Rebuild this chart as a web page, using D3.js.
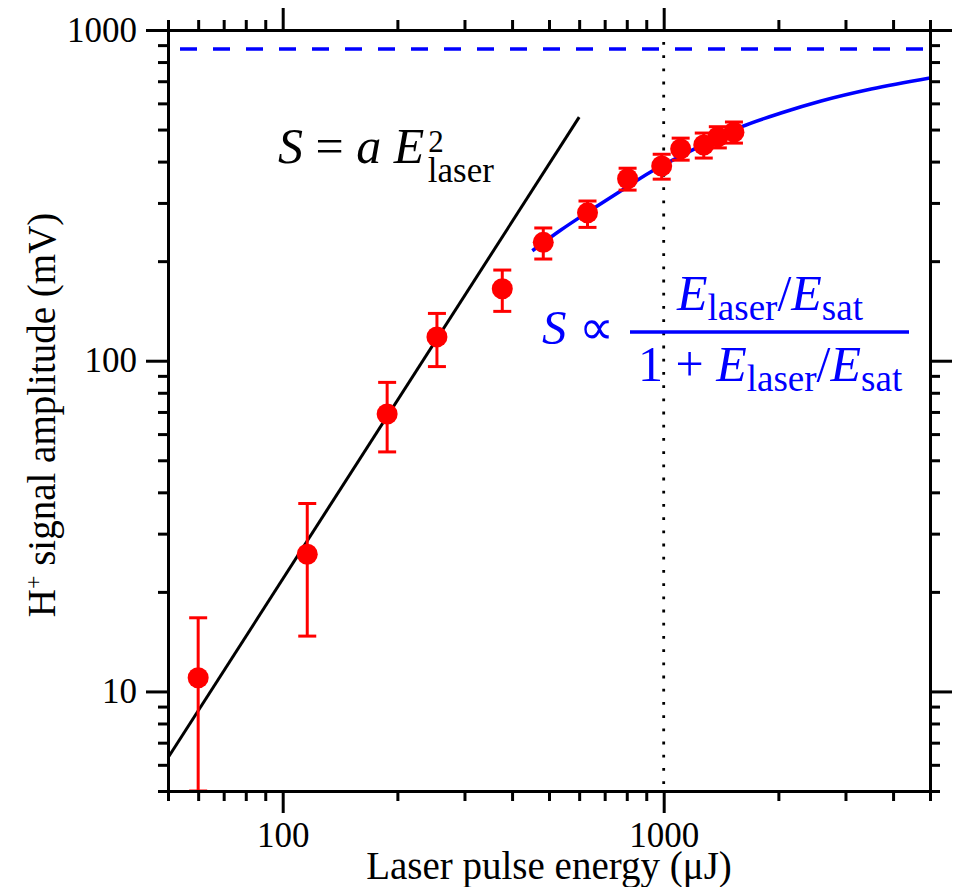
<!DOCTYPE html>
<html>
<head>
<meta charset="utf-8">
<script src="https://cdn.jsdelivr.net/npm/d3@7"></script>
<style>
  body { margin: 0; background: #fff; }
  svg { font-family: "Liberation Serif", "Times New Roman", serif; }
  .axis path, .axis line { stroke: #000; stroke-width: 3; }
  .axis text { font-size: 35px; fill: #000; font-family: "Liberation Serif", serif; }
</style>
</head>
<body>
<div id="chart"></div>
<script>
// measured points (energy in uJ, signal in mV)
const energy = [60, 116, 188, 254, 377, 483, 631, 804, 988, 1108, 1274, 1387, 1529];
const signal = [11, 26, 69, 118, 165, 228, 280, 355, 388, 437, 449, 475, 491];
const errLow = [5, 14.7, 53, 96, 141, 203, 253, 328, 354, 404, 410, 440, 455];
const errHigh = [16.7, 37, 86, 139, 188, 252, 304, 382, 421, 471, 488, 510, 527];

// quadratic guide line (end points)
const quadE = [50, 600];
const quadS = [6.3, 545];

// saturation fit curve
const fitE = [452, 536, 643, 771, 924, 1109, 1330, 1595, 2032, 2590, 3505, 5000];
const fitS = [215, 248, 285, 326, 372, 416, 462, 509, 561, 610, 663, 716];

const saturationLevel = 876;
const eSatMark = 1000;

const xMajor = [100, 1000];
const xMinor = [50, 60, 70, 80, 90, 200, 300, 400, 500, 600, 700, 800, 900, 2000, 3000, 4000, 5000];
const yMajor = [10, 100, 1000];
const yMinor = [5, 6, 7, 8, 9, 20, 30, 40, 50, 60, 70, 80, 90, 200, 300, 400, 500, 600, 700, 800, 900];

const width = 963;
const height = 887;
const area = { left: 168, right: 930, top: 30, bottom: 791 };

const svg = d3.select("#chart").append("svg")
  .attr("width", width)
  .attr("height", height);

const x = d3.scaleLog().domain([50, 5000]).range([area.left, area.right]);
const y = d3.scaleLog().domain([5, 1000]).range([area.bottom, area.top]);

svg.append("clipPath").attr("id", "plot-clip")
  .append("rect")
  .attr("x", area.left).attr("y", area.top)
  .attr("width", area.right - area.left)
  .attr("height", area.bottom - area.top);

const plot = svg.append("g").attr("clip-path", "url(#plot-clip)");

// saturation level (dashed)
plot.append("line")
  .attr("x1", x(50)).attr("x2", x(5000))
  .attr("y1", y(saturationLevel)).attr("y2", y(saturationLevel))
  .style("stroke", "#0000ff")
  .style("stroke-width", 3.3)
  .style("stroke-dasharray", "17,16")
  .style("stroke-dashoffset", 21);

// E_sat marker (dotted)
plot.append("line")
  .attr("x1", x(eSatMark)).attr("x2", x(eSatMark))
  .attr("y1", y(1000)).attr("y2", y(5))
  .style("stroke", "#000")
  .style("stroke-width", 2.8)
  .style("stroke-dasharray", "2.8,10.4")
  .style("stroke-dashoffset", -12);

// quadratic line
plot.append("path")
  .datum(quadE.map((e, i) => [e, quadS[i]]))
  .attr("d", d3.line().x((d) => x(d[0])).y((d) => y(d[1])))
  .style("fill", "none")
  .style("stroke", "#000")
  .style("stroke-width", 3);

// saturation fit
plot.append("path")
  .datum(fitE.map((e, i) => [e, fitS[i]]))
  .attr("d", d3.line().x((d) => x(d[0])).y((d) => y(d[1])).curve(d3.curveMonotoneX))
  .style("fill", "none")
  .style("stroke", "#0000ff")
  .style("stroke-width", 3.5);

// error bars + points
const pts = energy.map((e, i) => ({ e, s: signal[i], lo: errLow[i], hi: errHigh[i] }));
const capW = 9;

const bars = plot.append("g")
  .style("stroke", "#ff0000")
  .style("stroke-width", 3);

bars.selectAll("line.v").data(pts).join("line")
  .attr("class", "v")
  .attr("x1", (d) => x(d.e)).attr("x2", (d) => x(d.e))
  .attr("y1", (d) => y(d.lo)).attr("y2", (d) => y(d.hi));

bars.selectAll("line.top").data(pts).join("line")
  .attr("class", "top")
  .attr("x1", (d) => x(d.e) - capW).attr("x2", (d) => x(d.e) + capW)
  .attr("y1", (d) => y(d.hi)).attr("y2", (d) => y(d.hi));

bars.selectAll("line.bot").data(pts).join("line")
  .attr("class", "bot")
  .attr("x1", (d) => x(d.e) - capW).attr("x2", (d) => x(d.e) + capW)
  .attr("y1", (d) => y(d.lo)).attr("y2", (d) => y(d.lo));

plot.append("g").selectAll("circle").data(pts).join("circle")
  .attr("cx", (d) => x(d.e))
  .attr("cy", (d) => y(d.s))
  .attr("r", 10.5)
  .style("fill", "#ff0000");

// axes, ticks outward on all four sides
function addAxis(axisFn, scale, values, size, labels, transform) {
  const ax = axisFn(scale).tickValues(values).tickSize(size).tickSizeOuter(0).tickPadding(9);
  ax.tickFormat(labels ? d3.format("d") : "");
  svg.append("g")
    .attr("class", "axis")
    .attr("transform", transform)
    .call(ax);
}

addAxis(d3.axisBottom, x, xMinor, 10, false, `translate(0,${area.bottom})`);
addAxis(d3.axisBottom, x, xMajor, 22, true, `translate(0,${area.bottom})`);
addAxis(d3.axisTop, x, xMinor, 10, false, `translate(0,${area.top})`);
addAxis(d3.axisTop, x, xMajor, 22, false, `translate(0,${area.top})`);
addAxis(d3.axisLeft, y, yMinor, 10, false, `translate(${area.left},0)`);
addAxis(d3.axisLeft, y, yMajor, 22, true, `translate(${area.left},0)`);
addAxis(d3.axisRight, y, yMinor, 10, false, `translate(${area.right},0)`);
addAxis(d3.axisRight, y, yMajor, 22, false, `translate(${area.right},0)`);

svg.selectAll(".axis path.domain").style("stroke-linecap", "square");

// axis titles
svg.append("text")
  .attr("x", (area.left + area.right) / 2)
  .attr("y", 879)
  .attr("text-anchor", "middle")
  .style("font-size", "39px")
  .text("Laser pulse energy (\u03bcJ)");

const yTitle = svg.append("text")
  .attr("transform", "translate(55,415) rotate(-90)")
  .attr("text-anchor", "middle")
  .style("font-size", "39px");
yTitle.append("tspan").text("H");
yTitle.append("tspan").attr("dy", -14).style("font-size", "24px").text("+");
yTitle.append("tspan").attr("dy", 14).text(" signal amplitude (mV)");

// S = a E^2_laser
const quadLabel = svg.append("text")
  .attr("x", 278).attr("y", 163)
  .style("font-size", "50px");
quadLabel.append("tspan").style("font-style", "italic").text("S");
quadLabel.append("tspan").text(" = ");
quadLabel.append("tspan").style("font-style", "italic").text("a E");
quadLabel.append("tspan").attr("dy", -11).attr("dx", 4).style("font-size", "31px").text("2");
quadLabel.append("tspan").attr("dy", 30).attr("dx", -16).style("font-size", "35px").text("laser");

// S ∝ (E/Esat)/(1+E/Esat)
const blue = svg.append("g").style("fill", "#0000ff");

blue.append("text")
  .attr("x", 542).attr("y", 344)
  .style("font-size", "49px")
  .call((t) => {
    t.append("tspan").style("font-style", "italic").text("S");
    t.append("tspan").text(" \u221d");
  });

blue.append("line")
  .attr("x1", 630).attr("x2", 909)
  .attr("y1", 332).attr("y2", 332)
  .style("stroke", "#0000ff")
  .style("stroke-width", 3.3);

function ratio(t) {
  t.append("tspan").style("font-style", "italic").text("E");
  t.append("tspan").attr("dy", 10).style("font-size", "37px").text("laser");
  t.append("tspan").attr("dy", -10).text("/");
  t.append("tspan").style("font-style", "italic").text("E");
  t.append("tspan").attr("dy", 10).style("font-size", "37px").text("sat");
}

blue.append("text")
  .attr("x", 677).attr("y", 310)
  .style("font-size", "50px")
  .call(ratio);

blue.append("text")
  .attr("x", 638).attr("y", 381)
  .style("font-size", "50px")
  .call((t) => {
    t.append("tspan").text("1 + ");
    ratio(t);
  });
</script>
</body>
</html>
